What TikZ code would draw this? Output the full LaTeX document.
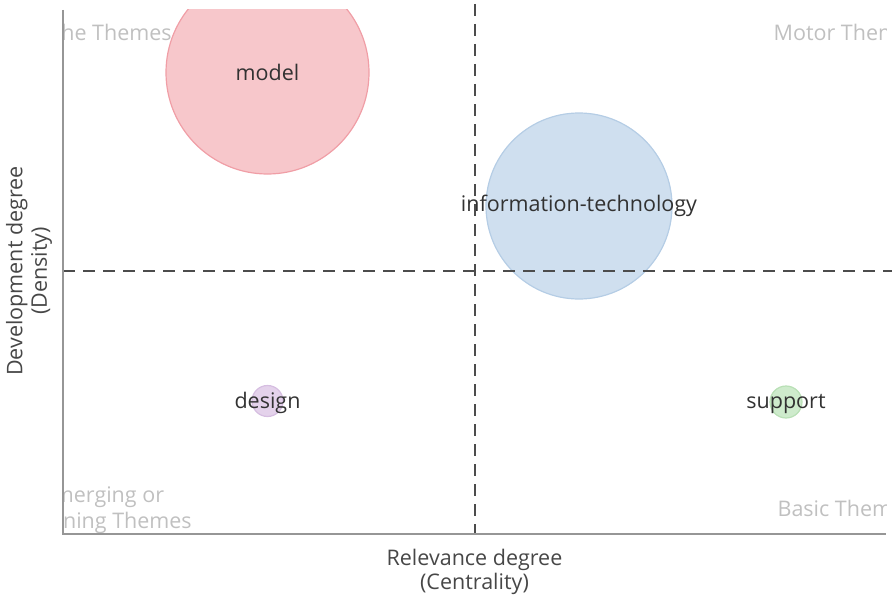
\documentclass[tikz,border=0pt]{standalone}
\usepackage{fontspec}
\setmainfont{Open Sans}
\definecolor{modelfill}{RGB}{247,199,203}
\definecolor{modeldraw}{RGB}{240,158,166}
\definecolor{infofill}{RGB}{207,223,239}
\definecolor{infodraw}{RGB}{181,205,229}
\definecolor{designfill}{RGB}{228,210,235}
\definecolor{designdraw}{RGB}{214,190,225}
\definecolor{supportfill}{RGB}{206,235,204}
\definecolor{supportdraw}{RGB}{185,224,182}
\definecolor{axisgray}{RGB}{150,150,150}
\definecolor{quadgray}{RGB}{192,192,192}
\definecolor{termgray}{RGB}{50,50,50}
\begin{document}
\begin{tikzpicture}[x=1pt,y=-1pt,
  bubble/.style={circle, inner sep=0pt, line width=1.2pt},
  term/.style={text=termgray, font=\fontsize{21.5}{26}\selectfont},
  quadrant/.style={text=quadgray, font=\fontsize{21.5}{26}\selectfont, align=center},
  axistitle/.style={text=black!72, font=\fontsize{21.5}{24.5}\selectfont, align=center},
  axisline/.style={draw=axisgray, line width=1.8pt},
  divider/.style={draw=black!70, line width=1.8pt, dash pattern=on 12pt off 8pt}]
  \useasboundingbox (0,0) rectangle (892,602);
  \coordinate (origin) at (63,534);
  \coordinate (top) at (63,10);
  \coordinate (right) at (886,534);
  \begin{scope}
    \clip (63,10) rectangle (886,534);
    \node[quadrant, anchor=west] (niche) at (26,32) {Niche Themes};
    \node[quadrant, anchor=east] (motor) at (924,32) {Motor Themes};
    \node[quadrant] (emerging) at (103,510) {Emerging or\\Declining Themes};
    \node[quadrant, anchor=east] (basic) at (918,508) {Basic Themes};
    \node[bubble, fill=modelfill, draw=modeldraw, minimum size=203pt] (model) at (267.5,72.5) {};
    \node[bubble, fill=infofill, draw=infodraw, minimum size=186pt] (infotech) at (579,206) {};
    \node[bubble, fill=designfill, draw=designdraw, minimum size=31pt] (design) at (267.5,401) {};
    \node[bubble, fill=supportfill, draw=supportdraw, minimum size=32pt] (support) at (786,402) {};
  \end{scope}
  \node[term] at (model) {model};
  \node[term] at (infotech) {information-technology};
  \node[term, yshift=-2pt] at (design) {design};
  \node[term, yshift=-1.5pt] at (support) {support};
  \draw[divider] (475,4) -- (475,534);
  \draw[divider] (63,271) -- (892,271);
  \draw[axisline] (top) -- (origin) -- (right);
  \node[axistitle] (xtitle) at (474.5,572) {Relevance degree\\(Centrality)};
  \node[axistitle, rotate=90] (ytitle) at (29,271) {Development degree\\(Density)};
\end{tikzpicture}
\end{document}
